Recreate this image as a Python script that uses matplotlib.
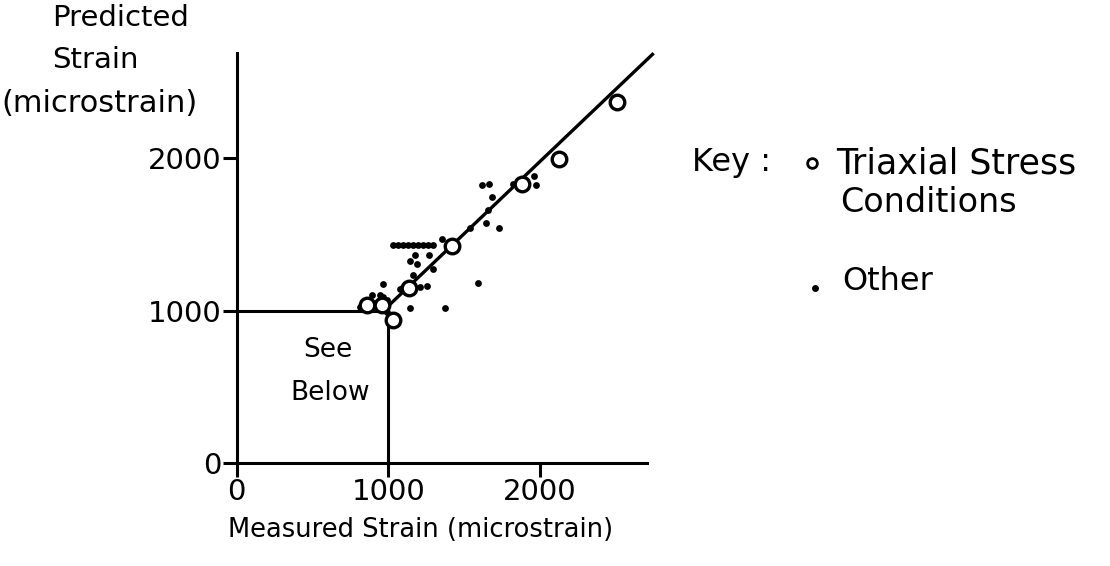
import matplotlib
matplotlib.use("Agg")
import matplotlib.pyplot as plt

plt.rcParams['font.family'] = ['DejaVu Sans']

# Triaxial stress conditions (open circles)
tri_measured = [2505, 2125, 1879, 1420, 1133, 1031, 860, 958]
tri_predicted = [2369, 1993, 1828, 1420, 1151, 938, 1036, 1036]

# Other conditions (small dots)
oth_measured = [1960, 1973, 1821, 1614, 1663, 1681, 1644, 1727, 1657, 1538,
                1352, 1030, 1063, 1096, 1129, 1162, 1195, 1228, 1261, 1294,
                1179, 1265, 1143, 1186, 1294, 1163, 1209, 1255, 1591, 1374,
                1143, 1077, 1097, 965, 893, 945, 965, 991, 925, 833, 814,
                893, 991]
oth_predicted = [1882, 1823, 1830, 1823, 1830, 1742, 1574, 1544, 1659, 1541,
                 1469, 1430, 1430, 1430, 1430, 1430, 1430, 1430, 1430, 1430,
                 1364, 1364, 1325, 1302, 1275, 1233, 1157, 1161, 1180, 1016,
                 1016, 1141, 1154, 1174, 1102, 1102, 1089, 1069, 1049, 1056,
                 1023, 1010, 990]

# Fitted line and the boxed region shown in a separate figure
fit_x = [1000, 2740]
fit_y = [1030, 2680]
box_x = [0, 1000, 1000]
box_y = [1000, 1000, 0]

ticks = [0, 1000, 2000]
tick_labels = ['0', '1000', '2000']

W, H = 1110, 566
fig = plt.figure(figsize=(W / 100, H / 100), dpi=100)


def px(x, y):
    return x / W, 1 - y / H


left, right, top, bottom = 236.5, 647, 53, 463
ax = fig.add_axes([left / W, 1 - bottom / H, (right - left) / W, (bottom - top) / H])
ax.set_xlim(0, 2704)
ax.set_ylim(0, 2689)

for side in ('top', 'right'):
    ax.spines[side].set_visible(False)
for side in ('left', 'bottom'):
    ax.spines[side].set_linewidth(2.2)
    ax.spines[side].set_color('black')

ax.set_xticks(ticks)
ax.set_xticklabels(tick_labels)
ax.set_yticks(ticks)
ax.set_yticklabels(tick_labels)
ax.tick_params(axis='both', direction='out', length=10, width=2.2,
               labelsize=21, pad=1)

ax.plot(box_x, box_y, color='black', lw=2.2, solid_capstyle='butt')
ax.plot(fit_x, fit_y, color='black', lw=2.4, clip_on=False)

ax.scatter(oth_measured, oth_predicted, s=24, color='black', zorder=3,
           clip_on=False, linewidths=0)
ax.scatter(tri_measured, tri_predicted, s=110, facecolors='white',
           edgecolors='black', linewidths=2.4, zorder=4, clip_on=False)

ax.text(605, 741, 'See', ha='center', va='center', fontsize=19)
ax.text(620, 459, 'Below', ha='center', va='center', fontsize=19)

# axis titles
fig.text(*px(52, 18), 'Predicted', ha='left', va='center', fontsize=21)
fig.text(*px(52, 60), 'Strain', ha='left', va='center', fontsize=21)
fig.text(*px(1, 103), '(microstrain)', ha='left', va='center', fontsize=22)
fig.text(*px(421, 530), 'Measured Strain (microstrain)', ha='center',
         va='center', fontsize=18.5)

# key
fig.text(*px(692, 163), 'Key :', ha='left', va='center', fontsize=23)
fig.lines.append(plt.Line2D([812 / W], [1 - 163 / H], marker='o', ms=7,
                            mfc='white', mec='black', mew=2,
                            transform=fig.transFigure, figure=fig))
fig.text(*px(836, 163), 'Triaxial Stress', ha='left', va='center', fontsize=25)
fig.text(*px(840, 203), 'Conditions', ha='left', va='center', fontsize=24)
fig.lines.append(plt.Line2D([815 / W], [1 - 288 / H], marker='o', ms=4,
                            mfc='black', mec='black',
                            transform=fig.transFigure, figure=fig))
fig.text(*px(842, 281), 'Other', ha='left', va='center', fontsize=23)

fig.savefig('out.png', dpi=100, facecolor='white')
